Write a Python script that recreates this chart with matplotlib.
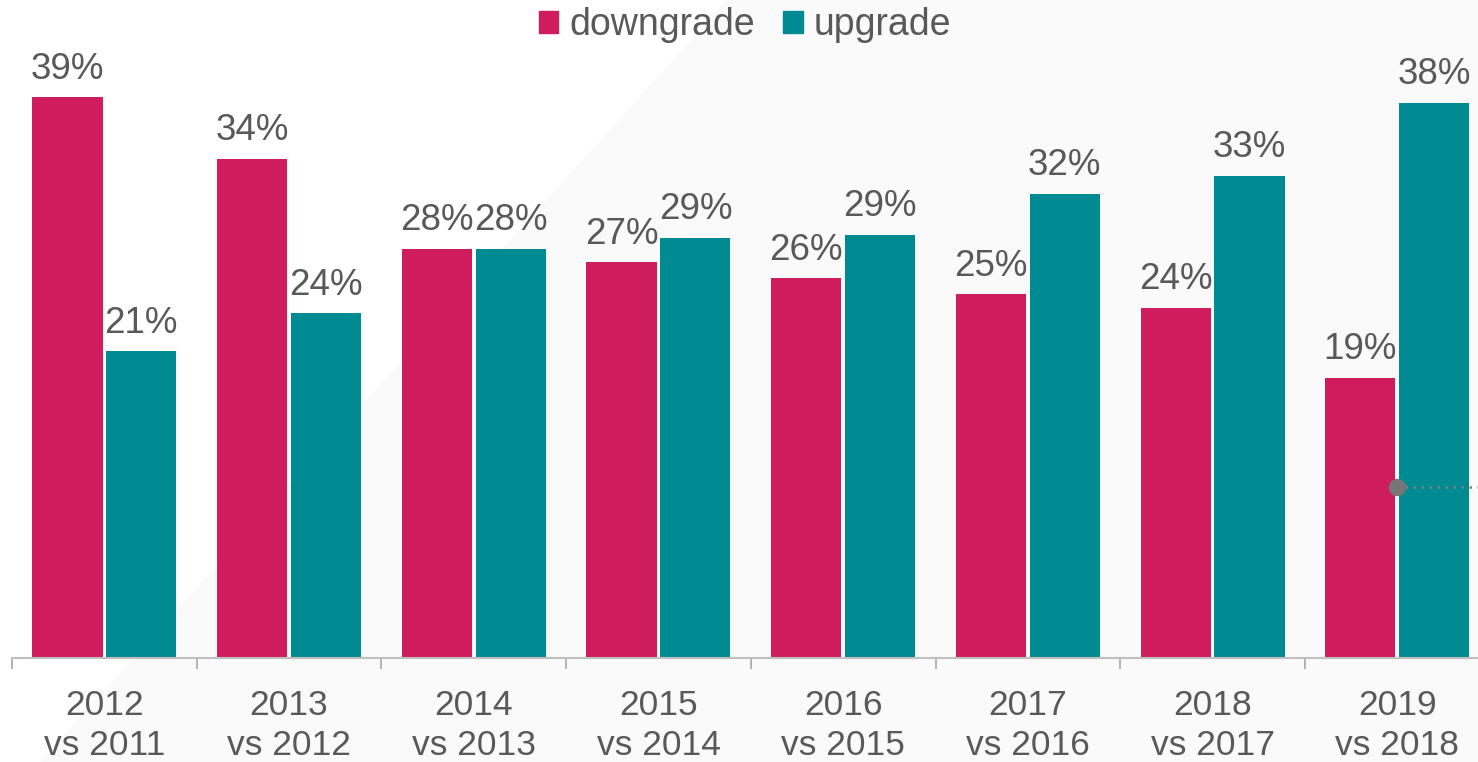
import matplotlib.pyplot as plt
from matplotlib.patches import Polygon, Patch
import numpy as np

plt.rcParams['font.family'] = ['Liberation Sans', 'DejaVu Sans']

categories = ["2012\nvs 2011", "2013\nvs 2012", "2014\nvs 2013", "2015\nvs 2014",
              "2016\nvs 2015", "2017\nvs 2016", "2018\nvs 2017", "2019\nvs 2018"]
downgrade = [38.4, 34.2, 28.0, 27.1, 26.0, 24.9, 24.0, 19.2]
upgrade = [21.0, 23.6, 28.0, 28.8, 29.0, 31.8, 33.0, 38.0]
down_labels = ["39%", "34%", "28%", "27%", "26%", "25%", "24%", "19%"]
up_labels = ["21%", "24%", "28%", "29%", "29%", "32%", "33%", "38%"]
marker_value = 11.7

pink = "#ce1c5c"
teal = "#008a91"
grey = "#595959"

W, H = 1478, 762
fig = plt.figure(figsize=(W / 100, H / 100), dpi=100)
fig.patch.set_facecolor("white")

# faint diagonal background shape
bg = Polygon([(727 / W, 1), (40 / W, 0), (1, 0), (1, 1)], closed=True,
             transform=fig.transFigure, facecolor="#fafafa",
             edgecolor="none", zorder=-5)
fig.patches.append(bg)

ax = fig.add_axes([12 / W, (H - 658) / H, 8 * 184.7 / W, 658 / H])
ax.set_facecolor("none")
ax.set_zorder(1)

x = np.arange(len(categories))
w = 0.38
b1 = ax.bar(x - 0.2, downgrade, w, color=pink, zorder=2)
b2 = ax.bar(x + 0.2, upgrade, w, color=teal, zorder=2)

for rects, labs in ((b1, down_labels), (b2, up_labels)):
    for r, lab in zip(rects, labs):
        ax.annotate(lab, (r.get_x() + r.get_width() / 2, r.get_height()),
                    xytext=(0, 13.5), textcoords="offset points",
                    ha="center", va="baseline", fontsize=26.5, color=grey)

# marker with dotted line
ax.plot([7, 8], [marker_value, marker_value], ls=(0, (1, 2.2)), color="#7f7f7f",
        lw=1.8, zorder=3, clip_on=False)
ax.plot([7], [marker_value], "o", color="#767676", markersize=11.5, zorder=4)

ax.set_xlim(-0.5, 7.5)
ax.set_ylim(0, 658 / 14.6)

ax.set_xticks(np.arange(-0.5, 8, 1))
ax.set_xticklabels([])
ax.set_xticks(x, minor=True)
ax.set_xticklabels(categories, minor=True, fontsize=25.5, color=grey, linespacing=1.3)
ax.tick_params(axis="x", which="major", length=8, color="#a6a6a6", width=1.2)
ax.tick_params(axis="x", which="minor", length=0, pad=22)
ax.set_yticks([])

for s in ("top", "right", "left"):
    ax.spines[s].set_visible(False)
ax.spines["bottom"].set_color("#bfbfbf")
ax.spines["bottom"].set_linewidth(1.5)

handles = [Patch(color=pink, label="downgrade"), Patch(color=teal, label="upgrade")]
leg = fig.legend(handles=handles, loc="center", bbox_to_anchor=(745 / W, 1 - 25 / H),
                 ncol=2, frameon=False, fontsize=27, labelcolor=grey,
                 handlelength=0.52, handleheight=0.52, handletextpad=0.3,
                 columnspacing=0.75, borderpad=0, borderaxespad=0)
leg.set_zorder(2)

fig.savefig("out.png", dpi=100)
